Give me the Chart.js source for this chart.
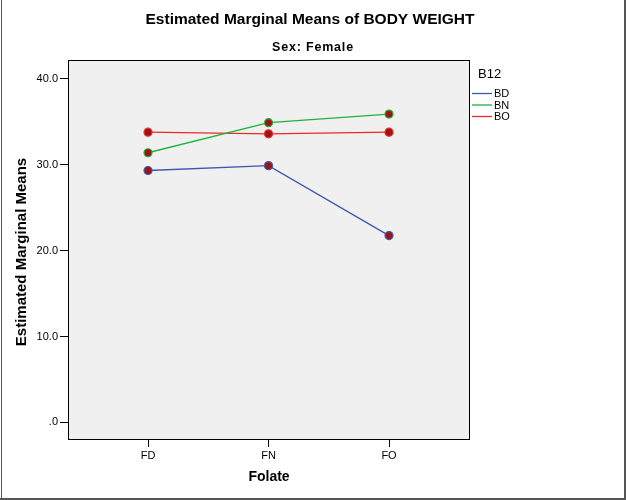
<!DOCTYPE html>
<html><head><meta charset="utf-8">
<script src="https://cdn.jsdelivr.net/npm/chart.js@4"></script>
<style>html,body{margin:0;padding:0;background:#fff}#w{width:626px;height:500px;position:relative}</style>
</head><body><div id="w"><canvas id="c" width="626" height="500"></canvas></div>
<script>
const categories = ["FD", "FN", "FO"];
const seriesNames = ["BD", "BN", "BO"];
const bdValues = [29.33, 29.9, 21.75];
const bnValues = [31.4, 34.9, 35.9];
const boValues = [33.8, 33.6, 33.8];
const yTicks = [0, 10, 20, 30, 40];
const seriesColors = ["#3e58ac", "#1fb33a", "#f02828"];

const FONT = "'Liberation Sans', Arial, sans-serif";
const allValues = [bdValues, bnValues, boValues];
const datasets = seriesNames.map((n, i) => ({
  label: n,
  data: allValues[i].map((v, j) => ({x: j, y: v})),
  borderColor: seriesColors[i],
  borderWidth: 1.3,
  pointBackgroundColor: "#9c1414",
  pointBorderColor: seriesColors[i],
  pointBorderWidth: 1.2,
  pointRadius: 4,
  tension: 0
}));

const decor = {
  id: "decor",
  beforeDraw(chart) {
    const {ctx, chartArea: a} = chart;
    ctx.save();
    ctx.fillStyle = "#f0f0f0";
    ctx.fillRect(a.left, a.top, a.right - a.left, a.bottom - a.top);
    ctx.restore();
  },
  afterDraw(chart) {
    const {ctx, chartArea: a} = chart;
    ctx.save();
    ctx.strokeStyle = "#000";
    ctx.lineWidth = 1;
    ctx.strokeRect(a.left + 0.5, a.top + 0.5, a.right - a.left - 1, a.bottom - a.top - 1);
    // titles
    ctx.fillStyle = "#000";
    ctx.textAlign = "center";
    ctx.textBaseline = "middle";
    ctx.font = "bold 15.5px " + FONT;
    ctx.fillText("Estimated Marginal Means of BODY WEIGHT", 310, 20);
    ctx.font = "bold 12.5px " + FONT;
    ctx.letterSpacing = "0.8px";
    ctx.fillText("Sex: Female", 313, 48);
    ctx.letterSpacing = "0px";
    ctx.font = "bold 14px " + FONT;
    ctx.fillText("Folate", 269, 477);
    ctx.save();
    ctx.translate(22, 252);
    ctx.rotate(-Math.PI / 2);
    ctx.font = "bold 15px " + FONT;
    ctx.fillText("Estimated Marginal Means", 0, 0);
    ctx.restore();
    // legend
    ctx.textAlign = "left";
    ctx.font = "13px " + FONT;
    ctx.fillText("B12", 478, 74);
    ctx.font = "11px " + FONT;
    const ys = [93, 104.5, 116];
    chart.data.datasets.forEach((d, i) => {
      ctx.strokeStyle = d.borderColor;
      ctx.lineWidth = 1.3;
      ctx.beginPath();
      ctx.moveTo(472, ys[i] + 0.5);
      ctx.lineTo(492, ys[i] + 0.5);
      ctx.stroke();
      ctx.fillStyle = "#000";
      ctx.fillText(d.label, 494, ys[i] + 1);
    });
    // page frame
    ctx.fillStyle = "#555";
    ctx.fillRect(1, 0, 1, 500);
    ctx.fillRect(624, 0, 2, 500);
    ctx.fillRect(0, 498, 626, 2);
    ctx.restore();
  }
};

new Chart(document.getElementById("c"), {
  type: "line",
  data: {datasets},
  options: {
    responsive: false,
    animation: false,
    devicePixelRatio: 1,
    layout: {padding: {top: 60, right: 156, left: 0, bottom: 0}},
    plugins: {legend: {display: false}, tooltip: {enabled: false}},
    scales: {
      x: {
        type: "linear",
        min: -0.664, max: 2.672,
        afterBuildTicks(s) { s.ticks = categories.map((c, i) => ({value: i})); },
        afterFit(s) { s.height = 60; },
        ticks: {callback: v => categories[v], color: "#000", font: {family: FONT, size: 11}, padding: 2, maxRotation: 0},
        grid: {drawOnChartArea: false, drawTicks: true, tickLength: 7, color: "#000", tickWidth: 1},
        border: {display: false}
      },
      y: {
        type: "linear",
        min: -2.05, max: 42.2,
        afterBuildTicks(s) { s.ticks = yTicks.map(v => ({value: v})); },
        afterFit(s) { s.width = 68; },
        ticks: {callback: v => v === 0 ? ".0" : v.toFixed(1), color: "#000", font: {family: FONT, size: 11}, padding: 2},
        grid: {drawOnChartArea: false, drawTicks: true, tickLength: 8, color: "#000", tickWidth: 1},
        border: {display: false}
      }
    }
  },
  plugins: [decor]
});
</script></body></html>
